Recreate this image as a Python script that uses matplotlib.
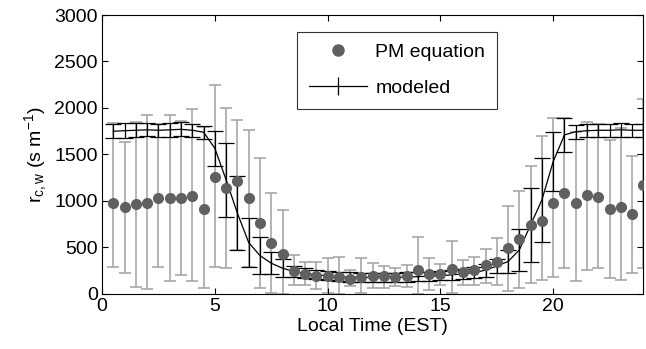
import numpy as np
import matplotlib
matplotlib.use('Agg')
import matplotlib.pyplot as plt
from matplotlib.lines import Line2D

plt.rcParams['font.family'] = ['Liberation Sans', 'DejaVu Sans']
plt.rcParams['mathtext.fontset'] = 'custom'
plt.rcParams['mathtext.rm'] = 'Liberation Sans'
plt.rcParams['mathtext.it'] = 'Liberation Sans'

# Local time (h), half-hourly
hours = np.arange(1, 49) * 0.5

# PM equation estimates and their error bar ends
pm = [982, 932, 968, 982, 1029, 1029, 1029, 1057, 914, 1262,
      1136, 1215, 1036, 767, 552, 427, 247, 215, 194, 194,
      186, 161, 186, 194, 194, 186, 194, 258, 215, 215,
      265, 237, 258, 312, 348, 491, 588, 742, 788, 975,
      1082, 975, 1065, 1046, 914, 932, 860, 1172]
pm_top = [1835, 1638, 1853, 1925, 1828, 1925, 1864, 1989, 1799, 2247,
          1997, 1871, 1763, 1466, 1089, 903, 419, 348, 348, 390,
          401, 258, 384, 330, 305, 283, 312, 609, 391, 323,
          570, 366, 401, 484, 599, 946, 1111, 1376, 1700, 1889,
          1889, 1745, 1853, 1828, 1656, 1781, 1484, 2093]
pm_bot = [294, 222, 79, 50, 294, 140, 204, 133, 61, 290,
          283, 473, 294, 68, 14, 0, 97, 97, 50, 14,
          0, 86, 7, 68, 68, 86, 72, 0, 43, 97,
          7, 97, 97, 115, 97, 32, 61, 115, 150, 186,
          276, 143, 258, 276, 168, 150, 229, 276]

# modeled values and half-width of their error bars
model = [1750, 1755, 1760, 1765, 1760, 1765, 1770, 1760, 1739, 1566,
         1226, 868, 552, 412, 330, 276, 240, 222, 205, 195,
         185, 180, 178, 175, 175, 178, 180, 185, 190, 195,
         205, 215, 230, 255, 300, 348, 473, 742, 1011, 1423,
         1710, 1745, 1755, 1760, 1760, 1765, 1760, 1760]
model_err = [75, 80, 75, 70, 70, 75, 75, 70, 70, 190,
             400, 400, 260, 200, 120, 100, 60, 55, 50, 50,
             50, 50, 50, 50, 50, 50, 50, 50, 50, 50,
             55, 55, 60, 70, 80, 125, 230, 400, 450, 320,
             180, 75, 70, 70, 70, 75, 70, 70]

pm = np.array(pm)
yerr = [pm - np.array(pm_bot), np.array(pm_top) - pm]

fig = plt.figure(figsize=(6.46, 3.49), dpi=100)
ax = fig.add_axes([0.158, 0.158, 0.838, 0.799])

ax.errorbar(hours, pm, yerr=yerr, fmt='none', ecolor='#a0a0a0',
            elinewidth=1.1, capsize=4.5, capthick=1.1, zorder=1)
ax.plot(hours, pm, 'o', color='#606060', markersize=7, zorder=3)
ax.errorbar(hours, model, yerr=model_err, fmt='-', color='black',
            lw=0.9, elinewidth=0.9, capsize=6, capthick=0.9, zorder=2)

ax.set_xlim(0, 24)
ax.set_ylim(0, 3000)
ax.set_xticks([0, 5, 10, 15, 20])
ax.set_yticks(np.arange(0, 3001, 500))
ax.tick_params(direction='in', top=True, right=True, labelsize=14,
               length=4, width=0.8, pad=3)
for s in ax.spines.values():
    s.set_linewidth(0.8)
ax.set_xlabel('Local Time (EST)', fontsize=14, labelpad=2)
ax.set_ylabel(r'$\mathregular{r_{c,w}\ (s\ m^{-1})}$', fontsize=14, labelpad=4)

handles = [Line2D([], [], ls='none', marker='o', color='#606060', markersize=8),
           Line2D([], [], color='black', lw=0.9, marker='|', markersize=13,
                  markeredgewidth=0.9)]
leg = ax.legend(handles, ['PM equation', 'modeled'], loc='upper left',
                bbox_to_anchor=(0.361, 0.94), fontsize=14, frameon=True,
                fancybox=False, edgecolor='black', handlelength=3.0,
                borderpad=0.6, labelspacing=0.95, handletextpad=0.4,
                borderaxespad=0)
leg.get_frame().set_linewidth(0.8)

fig.savefig('out.png', dpi=100)
